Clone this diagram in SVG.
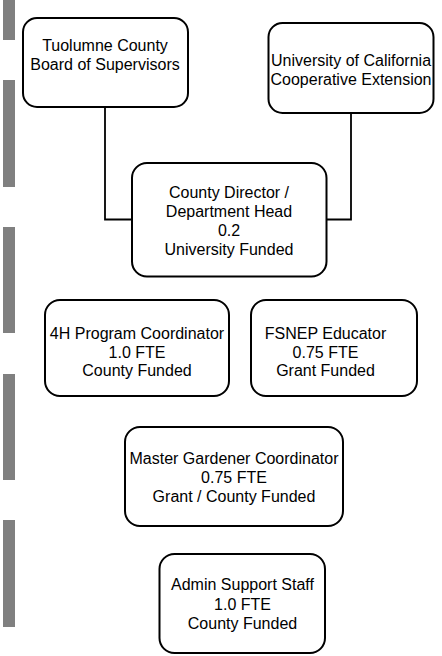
<svg xmlns="http://www.w3.org/2000/svg" width="442" height="656" viewBox="0 0 442 656">
<style>
.box{fill:#fff;stroke:#000;stroke-width:2}
.lbl{font-family:"Liberation Sans",Arial,sans-serif;font-size:16px;fill:#000;text-anchor:middle}
.con{fill:none;stroke:#000;stroke-width:1.8}
.bar{fill:#808080}
</style>
<rect width="442" height="656" fill="#fff"/>
<g id="sidebar">
<rect class="bar" x="3" y="0" width="12" height="40"/>
<rect class="bar" x="3" y="80" width="12" height="107"/>
<rect class="bar" x="3" y="227" width="12" height="106"/>
<rect class="bar" x="3" y="374" width="12" height="106"/>
<rect class="bar" x="3" y="520" width="12" height="107"/>
</g>
<g id="connectors">
<polyline class="con" points="105,107 105,219.5 132,219.5"/>
<polyline class="con" points="351,113 351,219.5 326,219.5"/>
</g>
<g id="board">
<rect class="box" x="23" y="18" width="165" height="89" rx="14"/>
<text class="lbl" x="105" y="51">Tuolumne County</text>
<text class="lbl" x="105" y="70">Board of Supervisors</text>
</g>
<g id="ucce">
<rect class="box" x="268.5" y="23" width="165" height="90" rx="14"/>
<text class="lbl" x="351" y="66">University of California</text>
<text class="lbl" x="351" y="84.5">Cooperative Extension</text>
</g>
<g id="director">
<rect class="box" x="132" y="163" width="194.5" height="113.5" rx="15"/>
<text class="lbl" x="229" y="197.5">County Director /</text>
<text class="lbl" x="229" y="217">Department Head</text>
<text class="lbl" x="229" y="236">0.2</text>
<text class="lbl" x="229" y="255">University Funded</text>
</g>
<g id="coord4h">
<rect class="box" x="45" y="300" width="184" height="96" rx="15"/>
<text class="lbl" x="137" y="339">4H Program Coordinator</text>
<text class="lbl" x="137" y="358">1.0 FTE</text>
<text class="lbl" x="137" y="376">County Funded</text>
</g>
<g id="fsnep">
<rect class="box" x="251" y="300" width="166" height="96" rx="15"/>
<text class="lbl" x="325.5" y="339">FSNEP Educator</text>
<text class="lbl" x="325.5" y="358">0.75 FTE</text>
<text class="lbl" x="325.5" y="376">Grant Funded</text>
</g>
<g id="mastergardener">
<rect class="box" x="125" y="427" width="218" height="99" rx="15"/>
<text class="lbl" x="234" y="463.5">Master Gardener Coordinator</text>
<text class="lbl" x="234" y="483">0.75 FTE</text>
<text class="lbl" x="234" y="502">Grant / County Funded</text>
</g>
<g id="admin">
<rect class="box" x="159.5" y="554" width="165.5" height="99" rx="15"/>
<text class="lbl" x="242.5" y="590">Admin Support Staff</text>
<text class="lbl" x="242.5" y="610">1.0 FTE</text>
<text class="lbl" x="242.5" y="629">County Funded</text>
</g>
</svg>
